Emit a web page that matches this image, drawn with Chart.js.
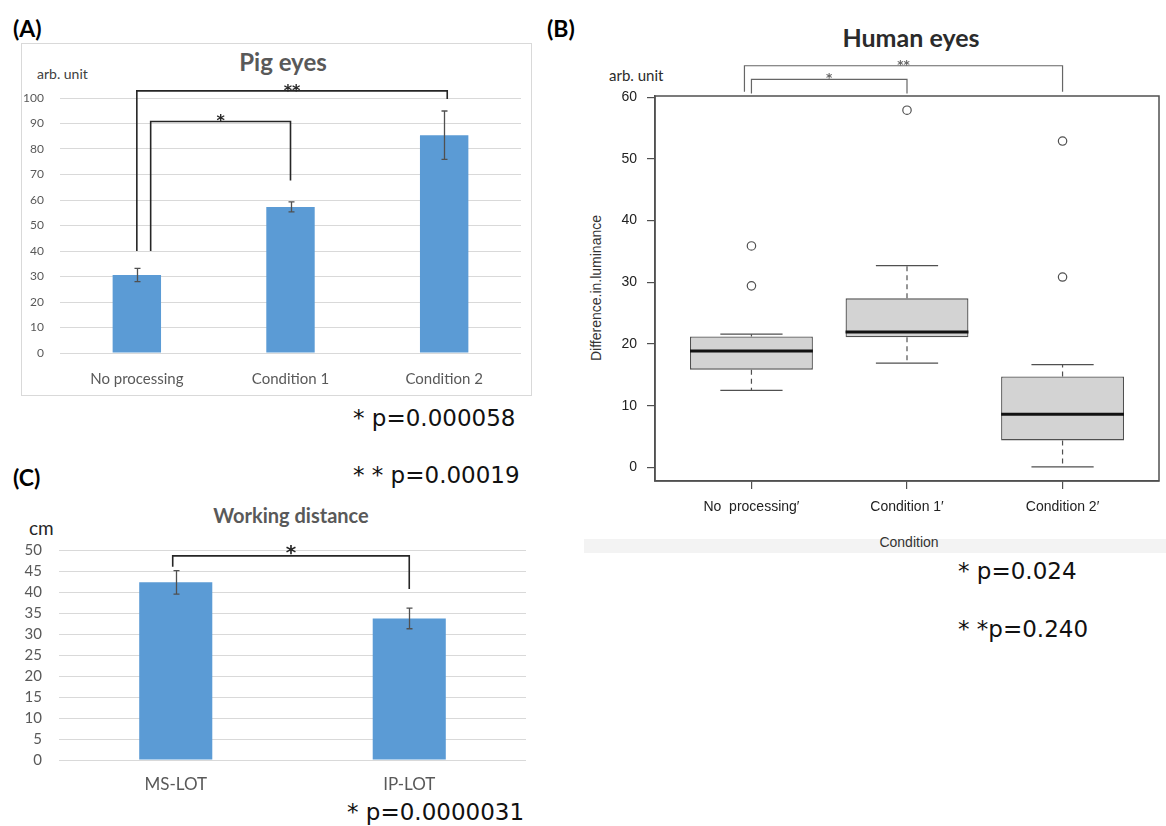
<!DOCTYPE html>
<html><head><meta charset="utf-8">
<script src="https://cdn.jsdelivr.net/npm/chart.js@4.4.1/dist/chart.umd.min.js"></script>
<style>
html,body{margin:0;padding:0;background:#fff;}
#page{position:relative;width:1166px;height:826px;overflow:hidden;background:#fff;}
canvas{position:absolute;}
.t{position:absolute;white-space:nowrap;line-height:1;}
.c{transform:translate(-50%,-50%);}
.l{transform:translate(0,-50%);}
.lab{font-family:Lato,sans-serif;font-weight:bold;font-size:23px;color:#000;}
.pv{font-family:'DejaVu Sans',sans-serif;font-size:23px;color:#111;}
</style></head><body><div id="page">
<div style="position:absolute;left:21px;top:43px;width:511px;height:353px;border:1px solid #d9d9d9;box-sizing:border-box;"></div>
<div style="position:absolute;left:584px;top:539px;width:582px;height:14px;background:#f3f3f3;"></div>

<div class="t l lab" style="left:13px;top:28px;">(A)</div>
<div class="t l lab" style="left:547px;top:28px;">(B)</div>
<div class="t l lab" style="left:13px;top:477px;">(C)</div>

<div class="t c" style="left:283px;top:62px;font-family:Lato;font-weight:bold;font-size:24px;color:#595959;">Pig eyes</div>
<div class="t l" style="left:37px;top:74px;font-family:Lato;font-size:14px;color:#404040;">arb. unit</div>

<div class="t c" style="left:911px;top:37px;font-family:Lato;font-weight:bold;font-size:25px;color:#2b2b2b;">Human eyes</div>
<div class="t l" style="left:609px;top:75px;font-family:Lato;font-size:15px;color:#2b2b2b;">arb. unit</div>
<div class="t c" style="left:596px;top:288px;transform:translate(-50%,-50%) rotate(-90deg);font-family:'Liberation Sans';font-size:14px;color:#333;">Difference.in.luminance</div>
<div class="t c" style="left:909px;top:542px;font-family:'Liberation Sans';font-size:14px;color:#333;">Condition</div>

<div class="t c" style="left:291px;top:515px;font-family:Lato;font-weight:bold;font-size:20px;color:#595959;">Working distance</div>
<div class="t l" style="left:29px;top:527px;font-family:Lato;font-size:19px;color:#262626;">cm</div>

<div class="t l pv" style="left:353px;top:418px;">* p=0.000058</div>
<div class="t l pv" style="left:353px;top:475px;">* * p=0.00019</div>
<div class="t l pv" style="left:958px;top:571px;">* p=0.024</div>
<div class="t l pv" style="left:958px;top:629px;">* *p=0.240</div>
<div class="t l pv" style="left:347px;top:812px;">* p=0.0000031</div>

<canvas id="chartA" width="511" height="353" style="left:21px;top:43px;width:511px;height:353px;"></canvas>
<canvas id="chartB" width="586" height="520" style="left:580px;top:40px;width:586px;height:520px;"></canvas>
<canvas id="chartC" width="530" height="281" style="left:10px;top:524px;width:530px;height:281px;"></canvas>
</div>
<script>
// ---- (A) Pig eyes ----
const pigCategories = ['No processing', 'Condition 1', 'Condition 2'];
const pigMeans = [30.6, 57.3, 85.4];
const pigErrors = [2.6, 1.95, 9.5];
const pigAxisRange = [0, 100];
const pigAxisStep = 10;
const pigBracketFrom = [0.0, 0.09];
const pigBracketTo = [2.02, 1.0];
const pigBracketLeftEnd = [40, 40];
const pigBracketRightEnd = [99.6, 67.6];
const pigBracketTop = [102.8, 90.8];
const pigBracketMarks = ['**', '*'];

// ---- (B) Human eyes (box plot) ----
const humanCategories = ['No  processing\u2032', 'Condition 1\u2032', 'Condition 2\u2032'];
const humanQ1 = [15.85, 21.08, 4.38];
const humanMedian = [18.87, 21.94, 8.6];
const humanQ3 = [21.24, 27.4, 14.75];
const humanWhiskerLow = [12.5, 16.9, 0.1];
const humanWhiskerHigh = [21.6, 32.7, 16.66];
const humanOutliers = [[35.9, 29.43], [57.9], [52.9, 30.86]];
const humanYTicks = [0, 10, 20, 30, 40, 50, 60];
const humanYRange = [-2.2, 60.2];
const humanXRange = [0.38, 3.62];
const humanBracketFrom = [0.955, 1.0];
const humanBracketTo = [3.0, 2.0];
const humanBracketLeftEnd = [60.9, 60.6];
const humanBracketRightEnd = [60.9, 60.6];
const humanBracketTop = [65.1, 62.9];
const humanBracketMarks = ['**', '*'];

// ---- (C) Working distance ----
const wdCategories = ['MS-LOT', 'IP-LOT'];
const wdMeans = [42.3, 33.7];
const wdErrors = [2.8, 2.45];
const wdAxisRange = [0, 50];
const wdAxisStep = 5;
const wdBracketFrom = [-0.013];
const wdBracketTo = [1.0];
const wdBracketLeftEnd = [46.0];
const wdBracketRightEnd = [40.7];
const wdBracketTop = [48.6];
const wdBracketMarks = ['*'];

function errorBarPlugin(means, errs, cap, color) {
  return { id: 'errbars', afterDatasetsDraw(chart) {
    const { ctx, scales: { x, y } } = chart;
    ctx.save(); ctx.strokeStyle = color; ctx.lineWidth = 1.3;
    means.forEach((m, i) => {
      const px = Math.round(x.getPixelForValue(i)) + 0.5;
      const t = y.getPixelForValue(m + errs[i]), b = y.getPixelForValue(m - errs[i]);
      ctx.beginPath();
      ctx.moveTo(px, t); ctx.lineTo(px, b);
      ctx.moveTo(px - cap, t); ctx.lineTo(px + cap, t);
      ctx.moveTo(px - cap, b); ctx.lineTo(px + cap, b);
      ctx.stroke();
    });
    ctx.restore();
  }};
}

function bracketPlugin(from, to, leftEnd, rightEnd, top, marks, style) {
  return { id: 'brackets', afterDraw(chart) {
    const { ctx, scales: { x, y } } = chart;
    ctx.save();
    ctx.strokeStyle = style.color; ctx.lineWidth = style.width; ctx.lineJoin = 'miter';
    ctx.fillStyle = style.color; ctx.font = style.font;
    ctx.textAlign = 'center'; ctx.textBaseline = 'alphabetic';
    from.forEach((f, i) => {
      const x1 = x.getPixelForValue(f), x2 = x.getPixelForValue(to[i]);
      const yt = y.getPixelForValue(top[i]);
      ctx.beginPath();
      ctx.moveTo(x1, y.getPixelForValue(leftEnd[i]));
      ctx.lineTo(x1, yt); ctx.lineTo(x2, yt);
      ctx.lineTo(x2, y.getPixelForValue(rightEnd[i]));
      ctx.stroke();
      ctx.fillText(marks[i], (x1 + x2) / 2, yt + style.markOffset);
    });
    ctx.restore();
  }};
}

const common = { responsive: false, animation: false, devicePixelRatio: 1,
  plugins: { legend: { display: false }, tooltip: { enabled: false }, title: { display: false } } };

// ---- Chart A ----
new Chart(document.getElementById('chartA'), {
  type: 'bar',
  data: { labels: pigCategories, datasets: [{ data: pigMeans, backgroundColor: '#5b9bd5', barPercentage: 0.315, categoryPercentage: 1 }] },
  options: Object.assign({}, common, {
    layout: { padding: { top: 55, right: 11, left: 0, bottom: 0 } },
    scales: {
      x: { grid: { display: false, drawTicks: false }, border: { display: false },
           afterFit: s => { s.height = 43; },
           ticks: { font: { family: 'Lato', size: 15 }, color: '#595959', padding: 17, maxRotation: 0, autoSkip: false } },
      y: { min: pigAxisRange[0], max: pigAxisRange[1],
           afterFit: s => { s.width = 39; },
           grid: { color: '#d9d9d9', drawTicks: false, lineWidth: 1 }, border: { display: false },
           ticks: { stepSize: pigAxisStep, autoSkip: false, font: { family: 'Lato', size: 12 }, color: '#595959', padding: 16 } }
    }
  }),
  plugins: [errorBarPlugin(pigMeans, pigErrors, 3, '#505050'),
            bracketPlugin(pigBracketFrom, pigBracketTo, pigBracketLeftEnd, pigBracketRightEnd, pigBracketTop, pigBracketMarks,
              { color: '#262626', width: 1.6, font: 'bold 16px "DejaVu Sans"', markOffset: 5 })]
});

// ---- Chart B (box plot) ----
const boxPlugin = { id: 'boxparts', afterDatasetsDraw(chart) {
  const { ctx, scales: { x, y } } = chart;
  ctx.save();
  humanMedian.forEach((m, i) => {
    const c = i + 1;
    const px = x.getPixelForValue(c);
    ctx.strokeStyle = '#505050'; ctx.lineWidth = 1.2;
    ctx.setLineDash([5, 4]);
    ctx.beginPath();
    ctx.moveTo(px, y.getPixelForValue(humanQ3[i])); ctx.lineTo(px, y.getPixelForValue(humanWhiskerHigh[i]));
    ctx.moveTo(px, y.getPixelForValue(humanQ1[i])); ctx.lineTo(px, y.getPixelForValue(humanWhiskerLow[i]));
    ctx.stroke();
    ctx.setLineDash([]);
    ctx.beginPath();
    const yh = y.getPixelForValue(humanWhiskerHigh[i]), yl = y.getPixelForValue(humanWhiskerLow[i]);
    ctx.moveTo(x.getPixelForValue(c - 0.2), yh); ctx.lineTo(x.getPixelForValue(c + 0.2), yh);
    ctx.moveTo(x.getPixelForValue(c - 0.2), yl); ctx.lineTo(x.getPixelForValue(c + 0.2), yl);
    ctx.stroke();
    ctx.strokeStyle = '#111'; ctx.lineWidth = 3;
    ctx.beginPath();
    const ym = y.getPixelForValue(m);
    ctx.moveTo(x.getPixelForValue(c - 0.395), ym); ctx.lineTo(x.getPixelForValue(c + 0.395), ym);
    ctx.stroke();
  });
  ctx.restore();
}, afterDraw(chart) {
  const { ctx, chartArea: a } = chart;
  ctx.save(); ctx.strokeStyle = '#505050'; ctx.lineWidth = 1.5;
  ctx.strokeRect(a.left, a.top, a.right - a.left, a.bottom - a.top);
  ctx.restore();
}};

new Chart(document.getElementById('chartB'), {
  type: 'bar',
  data: { datasets: [
    { type: 'bar', data: humanQ1.map((q, i) => ({ x: i + 1, y: [q, humanQ3[i]] })),
      backgroundColor: '#d3d3d3', borderColor: '#505050', borderWidth: 1.3, borderSkipped: false,
      barPercentage: 0.79, categoryPercentage: 1 },
    { type: 'scatter', data: humanOutliers.flatMap((arr, i) => arr.map(v => ({ x: i + 1, y: v }))),
      pointRadius: 4.2, pointBackgroundColor: 'rgba(255,255,255,0)', pointBorderColor: '#505050', pointBorderWidth: 1.2 }
  ]},
  options: Object.assign({}, common, {
    layout: { padding: { top: 56, right: 7, left: 0, bottom: 0 } },
    scales: {
      x: { type: 'linear', offset: false, min: humanXRange[0], max: humanXRange[1],
           afterBuildTicks: s => { s.ticks = humanCategories.map((c, i) => ({ value: i + 1 })); },
           afterFit: s => { s.height = 79; },
           grid: { offset: false, drawOnChartArea: false, drawTicks: true, tickLength: 8, color: '#505050', lineWidth: 1.2 },
           border: { display: true, color: '#505050', width: 1.5 },
           ticks: { callback: v => humanCategories[Math.round(v) - 1], font: { family: 'Liberation Sans', size: 14 },
                    color: '#222', padding: 10, maxRotation: 0, autoSkip: false } },
      y: { type: 'linear', min: humanYRange[0], max: humanYRange[1],
           afterBuildTicks: s => { s.ticks = humanYTicks.map(v => ({ value: v })); },
           afterFit: s => { s.width = 75; },
           grid: { drawOnChartArea: false, drawTicks: true, tickLength: 8, color: '#505050', lineWidth: 1.2 },
           border: { display: true, color: '#505050', width: 1.5 },
           ticks: { autoSkip: false, font: { family: 'Liberation Sans', size: 14 }, color: '#222', padding: 10 } }
    }
  }),
  plugins: [boxPlugin,
            bracketPlugin(humanBracketFrom, humanBracketTo, humanBracketLeftEnd, humanBracketRightEnd, humanBracketTop, humanBracketMarks,
              { color: '#666', width: 1.2, font: 'bold 12px "DejaVu Sans"', markOffset: 3 })]
});

// ---- Chart C ----
new Chart(document.getElementById('chartC'), {
  type: 'bar',
  data: { labels: wdCategories, datasets: [{ data: wdMeans, backgroundColor: '#5b9bd5', barPercentage: 0.313, categoryPercentage: 1 }] },
  options: Object.assign({}, common, {
    layout: { padding: { top: 15, right: 14, left: 0, bottom: 0 } },
    scales: {
      x: { grid: { display: false, drawTicks: false }, border: { display: false },
           afterFit: s => { s.height = 45; },
           ticks: { font: { family: 'Lato', size: 17 }, color: '#595959', padding: 14, maxRotation: 0, autoSkip: false } },
      y: { min: wdAxisRange[0], max: wdAxisRange[1],
           afterFit: s => { s.width = 49; },
           grid: { color: '#d9d9d9', drawTicks: false, lineWidth: 1 }, border: { display: false },
           ticks: { stepSize: wdAxisStep, autoSkip: false, font: { family: 'Lato', size: 15 }, color: '#595959', padding: 17 } }
    }
  }),
  plugins: [errorBarPlugin(wdMeans, wdErrors, 3, '#505050'),
            bracketPlugin(wdBracketFrom, wdBracketTo, wdBracketLeftEnd, wdBracketRightEnd, wdBracketTop, wdBracketMarks,
              { color: '#262626', width: 1.6, font: 'bold 20px "DejaVu Sans"', markOffset: 3 })]
});
</script>
</body></html>
